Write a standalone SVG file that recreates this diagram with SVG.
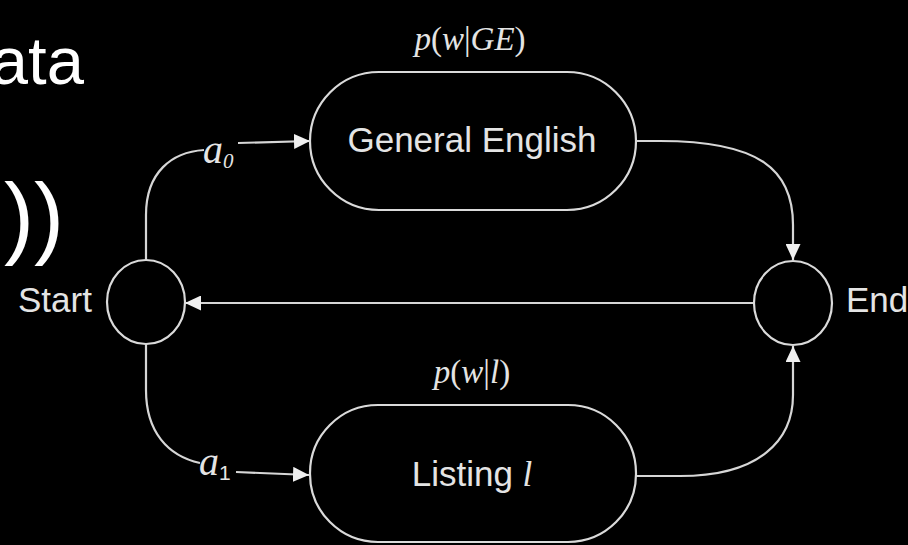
<svg xmlns="http://www.w3.org/2000/svg" width="908" height="545" viewBox="0 0 908 545">
  <style>
    .bg { fill: #000000; }
    .slide { font-family: "Liberation Sans", Arial, sans-serif; fill: #ffffff; }
    .shape { fill: none; stroke: #dadada; stroke-width: 2.2; }
    .edge { fill: none; stroke: #d6d6d6; stroke-width: 2.2; }
    .label { font-family: "Liberation Sans", Arial, sans-serif; font-size: 35px; fill: #e4e4e4; }
    .math { font-family: "Liberation Serif", "Times New Roman", serif; fill: #e4e4e4; }
    .it { font-style: italic; }
  </style>
  <defs>
    <marker id="arrow" markerUnits="userSpaceOnUse" markerWidth="17" markerHeight="15" refX="16" refY="7.5" orient="auto">
      <path d="M0,0 L16,7.5 L0,15 z" fill="#f0f0f0"/>
    </marker>
  </defs>

  <rect class="bg" x="0" y="0" width="908" height="545"/>

  <!-- slide body text behind the figure -->
  <text class="slide" x="84" y="84" font-size="67" text-anchor="end">ata</text>
  <text class="slide" x="4" y="247" font-size="90">))</text>

  <!-- connectors -->
  <g id="connectors">
    <path class="edge" d="M146,260 V215 C146,172 172,152 204,150"/>
    <path class="edge" d="M238,143 L310,141" marker-end="url(#arrow)"/>
    <path class="edge" d="M146,344 V390 C146,432 168,456 200,463"/>
    <path class="edge" d="M236,472 L309,475" marker-end="url(#arrow)"/>
    <path class="edge" d="M636,141 H660 C760,141 793,170 793,225 V260" marker-end="url(#arrow)"/>
    <path class="edge" d="M636,476 H680 C760,476 793,440 793,395 V346" marker-end="url(#arrow)"/>
    <path class="edge" d="M754,303 H185" marker-end="url(#arrow)"/>
    <text class="math" x="203" y="163" style="font-size:40px"><tspan class="it">a</tspan><tspan class="it" style="font-size:21px" dy="5">0</tspan></text>
    <text class="math" x="199" y="475" style="font-size:40px"><tspan class="it">a</tspan><tspan style="font-size:21px; font-family:'Liberation Sans', Arial, sans-serif" dy="5">1</tspan></text>
  </g>

  <!-- start node -->
  <g id="start">
    <ellipse class="shape" cx="146" cy="302" rx="39" ry="42"/>
    <text class="label" x="18" y="312">Start</text>
  </g>

  <!-- end node -->
  <g id="end">
    <ellipse class="shape" cx="793" cy="303" rx="39" ry="42"/>
    <text class="label" x="846" y="312">End</text>
  </g>

  <!-- general English model -->
  <g id="general-english">
    <text class="math" x="470" y="50" text-anchor="middle" style="font-size:33px"><tspan class="it">p</tspan>(<tspan class="it">w</tspan>|<tspan class="it">GE</tspan>)</text>
    <rect class="shape" x="310" y="72" width="326" height="138" rx="69" ry="69"/>
    <text class="label" x="472" y="152" text-anchor="middle">General English</text>
  </g>

  <!-- listing model -->
  <g id="listing">
    <text class="math" x="472" y="383" text-anchor="middle" style="font-size:33px"><tspan class="it">p</tspan>(<tspan class="it">w</tspan>|<tspan class="it">l</tspan>)</text>
    <rect class="shape" x="310" y="405" width="326" height="137" rx="68" ry="68"/>
    <text class="label" x="472" y="486" text-anchor="middle">Listing <tspan class="it" style="font-family:'Liberation Serif', 'Times New Roman', serif">l</tspan></text>
  </g>
</svg>
